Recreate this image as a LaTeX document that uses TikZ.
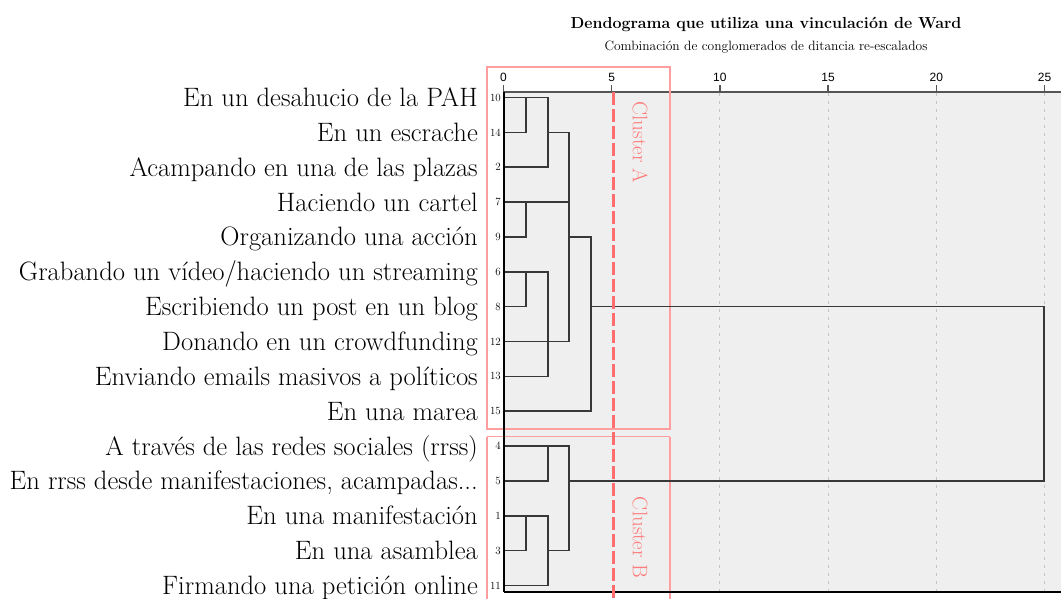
\documentclass[tikz,border=0pt]{standalone}
\usepackage{fontspec}
\newfontfamily\ticksfont{Liberation Sans}
\definecolor{plotbg}{HTML}{EFEFEF}
\definecolor{boxred}{HTML}{FF9E9E}
\definecolor{dashred}{HTML}{FF6E6E}
\definecolor{txtred}{HTML}{FF7A7A}
\definecolor{gridgray}{HTML}{C4C4C4}
\definecolor{axisgray}{HTML}{555555}
\tikzset{
  itemlabel/.style={anchor=base east, inner sep=0pt, font=\fontsize{26.6}{28}\selectfont},
  leafnum/.style={anchor=east, inner sep=0pt, font=\fontsize{11}{12}\selectfont},
  ticklabel/.style={anchor=base, inner sep=0pt, font=\ticksfont\fontsize{12}{13}\selectfont},
  dend/.style={draw=black!78, line width=1.6pt, line cap=rect},
  clusterbox/.style={draw=boxred, line width=1.2pt},
  cutline/.style={draw=dashred, line width=3pt, dash pattern=on 13pt off 4pt},
  gridline/.style={draw=gridgray, line width=1pt, dash pattern=on 3pt off 5pt},
  clustertext/.style={text=txtred, rotate=-90, inner sep=0pt, font=\fontsize{21}{22}\selectfont},
}
\begin{document}
\begin{tikzpicture}[x=1pt,y=-1pt,
  declare function={ry(\i)=97.5+34.85*\i; tx(\v)=503.5+21.64*\v;}]
\useasboundingbox (0,0) rectangle (1061,598);
\fill[white] (0,0) rectangle (1061,598);
% plot area
\fill[plotbg] (504,92) rectangle (1061,592);
% grid lines
\foreach \v in {10,15,20,25}{
  \draw[gridline] ({tx(\v)},93) -- ({tx(\v)},592);
}
% titles
\node[inner sep=0pt, anchor=base, font=\bfseries\fontsize{16}{17}\selectfont] (title) at (766,28) {Dendograma que utiliza una vinculación de Ward};
\node[inner sep=0pt, anchor=base, font=\fontsize{13.5}{15}\selectfont] (subtitle) at (766,50) {Combinación de conglomerados de ditancia re-escalados};
% axis
\draw[axisgray, line width=1.5pt] (503,92) -- (1061,92);
\foreach \v in {0,5,10,15,20,25}{
  \draw[axisgray, line width=1.5pt] ({tx(\v)},85) -- ({tx(\v)},92);
  \node[ticklabel] (t\v) at ({tx(\v)},81) {\v};
}
% cluster boxes
\draw[clusterbox] (487,67) rectangle (670,429);
\draw[clusterbox] (487,436.5) -- (670,436.5);
\draw[clusterbox] (487,436.5) -- (487,600);
\draw[clusterbox] (670,436.5) -- (670,600);
% item labels and leaf numbers
\foreach \t/\n [count=\i from 0] in {
  {En un desahucio de la PAH}/10,
  {En un escrache}/14,
  {Acampando en una de las plazas}/2,
  {Haciendo un cartel}/7,
  {Organizando una acción}/9,
  {Grabando un vídeo/haciendo un streaming}/6,
  {Escribiendo un post en un blog}/8,
  {Donando en un crowdfunding}/12,
  {Enviando emails masivos a políticos}/13,
  {En una marea}/15,
  {A través de las redes sociales (rrss)}/4,
  {En rrss desde manifestaciones, acampadas...}/5,
  {En una manifestación}/1,
  {En una asamblea}/3,
  {Firmando una petición online}/11}{
  \node[itemlabel] (l\i) at (478,{ry(\i)+9}) {\t};
  \node[leafnum] (n\i) at (501,{ry(\i)}) {\n};
}
% dendrogram
\def\xa{525.7}\def\xb{548}\def\xc{569}\def\xd{590.7}\def\xe{1044}\def\xo{504}
\begin{scope}[dend]
% cluster A
\draw (\xo,{ry(0)}) -- (\xb,{ry(0)});
\draw (\xo,{ry(1)}) -- (\xa,{ry(1)});
\draw (\xa,{ry(0)}) -- (\xa,{ry(1)});
\draw (\xb,{ry(0)}) -- (\xb,{ry(2)});
\draw (\xo,{ry(2)}) -- (\xb,{ry(2)});
\draw (\xb,{ry(1)}) -- (\xc,{ry(1)});
\draw (\xo,{ry(3)}) -- (\xc,{ry(3)});
\draw (\xa,{ry(3)}) -- (\xa,{ry(4)});
\draw (\xo,{ry(4)}) -- (\xa,{ry(4)});
\draw (\xc,{ry(1)}) -- (\xc,{ry(7)});
\draw (\xc,{ry(4)}) -- (\xd,{ry(4)});
\draw (\xo,{ry(5)}) -- (\xb,{ry(5)});
\draw (\xa,{ry(5)}) -- (\xa,{ry(6)});
\draw (\xo,{ry(6)}) -- (\xa,{ry(6)});
\draw (\xb,{ry(5)}) -- (\xb,{ry(8)});
\draw (\xo,{ry(7)}) -- (\xc,{ry(7)});
\draw (\xo,{ry(8)}) -- (\xb,{ry(8)});
\draw (\xo,{ry(9)}) -- (\xd,{ry(9)});
\draw (\xd,{ry(4)}) -- (\xd,{ry(9)});
\draw (\xd,{ry(6)}) -- (\xe,{ry(6)});
% cluster B
\draw (\xo,{ry(10)}) -- (\xc,{ry(10)});
\draw (\xb,{ry(10)}) -- (\xb,{ry(11)});
\draw (\xo,{ry(11)}) -- (\xb,{ry(11)});
\draw (\xc,{ry(10)}) -- (\xc,{ry(13)});
\draw (\xc,{ry(11)}) -- (\xe,{ry(11)});
\draw (\xo,{ry(12)}) -- (\xb,{ry(12)});
\draw (\xa,{ry(12)}) -- (\xa,{ry(13)});
\draw (\xo,{ry(13)}) -- (\xa,{ry(13)});
\draw (\xb,{ry(13)}) -- (\xc,{ry(13)});
\draw (\xb,{ry(12)}) -- (\xb,{ry(14)});
\draw (\xo,{ry(14)}) -- (\xb,{ry(14)});
% top merge
\draw (\xe,{ry(6)}) -- (\xe,{ry(11)});
\end{scope}
% plot frame lines
\draw[black, line width=1.5pt] (504,92) -- (504,592);
\draw[black, line width=1.5pt] (504,592) -- (1061,592);
% cut line
\draw[cutline] (613,92) -- (613,598);
% cluster labels
\node[clustertext] (ca) at (640,142.5) {Cluster A};
\node[clustertext] (cb) at (640,537.5) {Cluster B};
\end{tikzpicture}
\end{document}
